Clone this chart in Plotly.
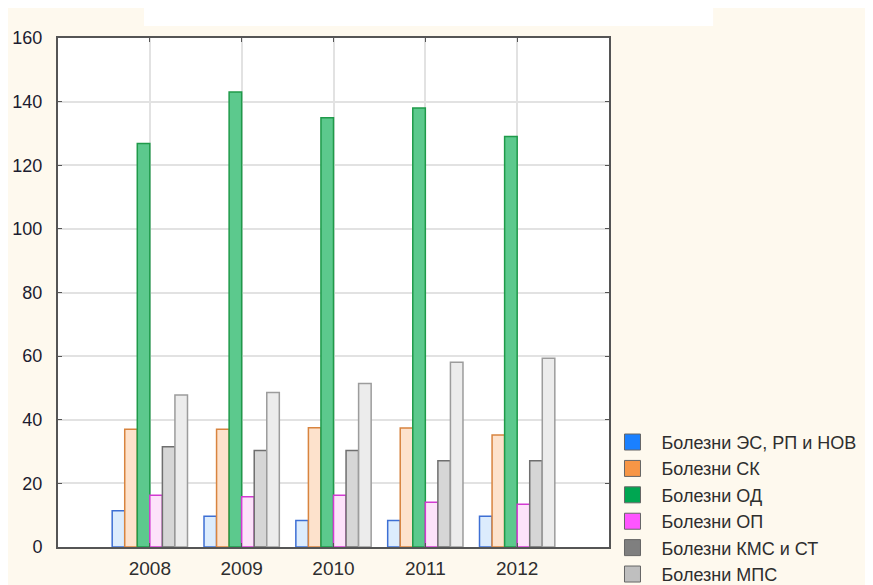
import plotly.graph_objects as go

years = ["2008", "2009", "2010", "2011", "2012"]

names = [
    "Болезни ЭС, РП и НОВ",
    "Болезни СК",
    "Болезни ОД",
    "Болезни ОП",
    "Болезни КМС и СТ",
    "Болезни МПС",
]

es_rp_nov = [11.4, 9.7, 8.3, 8.3, 9.7]
sk = [37.0, 37.0, 37.5, 37.4, 35.2]
od = [126.8, 143.0, 134.9, 138.0, 129.0]
op = [16.3, 15.8, 16.3, 14.1, 13.4]
kms_st = [31.5, 30.3, 30.3, 27.1, 27.1]
mps = [47.8, 48.6, 51.4, 58.1, 59.3]

series = [es_rp_nov, sk, od, op, kms_st, mps]

# pale bar fills, edge colours, and the bright legend swatches
fills = ["#dcecfd", "#fde2cc", "#5cc98d", "#fde2fa", "#d6d6d6", "#ececec"]
edges = ["#3d6fd4", "#d8843f", "#1f9a4a", "#d23ad2", "#6f6f6f", "#9c9c9c"]
swatch = ["#1a80ff", "#f79646", "#00a651", "#ff55ff", "#7f7f7f", "#bfbfbf"]

cream = "#fef9ee"

fig = go.Figure()

for i in range(len(names)):
    fig.add_trace(go.Bar(
        x=years, y=series[i], name=names[i],
        marker=dict(color=fills[i], line=dict(color=edges[i], width=1.5)),
        showlegend=False, legendgroup=names[i],
    ))

# legend entries with the saturated colours (scatter, so no bar slot is taken)
for i in range(len(names)):
    fig.add_trace(go.Scatter(
        x=[None], y=[None], name=names[i], mode="markers",
        marker=dict(symbol="square", size=16, color=swatch[i],
                    line=dict(color="#666666", width=1)),
        legendgroup=names[i],
    ))

fig.update_layout(
    width=873, height=585,
    margin=dict(l=50, r=272, t=30, b=46, autoexpand=False),
    paper_bgcolor=cream,
    plot_bgcolor="white",
    barmode="group",
    bargap=0.18,
    bargroupgap=0,
    font=dict(family="Liberation Sans, Arial, sans-serif", size=18, color="#333333"),
    legend=dict(
        x=0.99, y=0.242, xanchor="left", yanchor="top",
        bgcolor="rgba(0,0,0,0)",
        font=dict(size=18, color="#2e2e2e"),
        tracegroupgap=0,
        itemwidth=48,
    ),
    shapes=[
        dict(type="rect", xref="paper", yref="paper", x0=0.156, x1=1.189, y0=1.0236, y1=1.2,
             fillcolor="white", line=dict(width=0), layer="below"),
    ],
)

fig.update_xaxes(
    type="category", range=[-1, 5],
    showgrid=True, gridcolor="#e2e2e2", gridwidth=2,
    showline=True, linecolor="#555555", linewidth=2, mirror="ticks",
    ticks="inside", ticklen=4, tickcolor="#555555",
    tickfont=dict(size=19, color="#2e2e2e"),
    ticklabelstandoff=3,
)
fig.update_yaxes(
    range=[0, 160], dtick=20,
    showgrid=True, gridcolor="#e2e2e2", gridwidth=2,
    showline=True, linecolor="#555555", linewidth=2, mirror="ticks",
    ticks="inside", ticklen=4, tickcolor="#555555",
    tickfont=dict(size=18, color="#1c1c30"),
    ticklabelstandoff=10, zeroline=False,
)

fig.write_html("out.html")
